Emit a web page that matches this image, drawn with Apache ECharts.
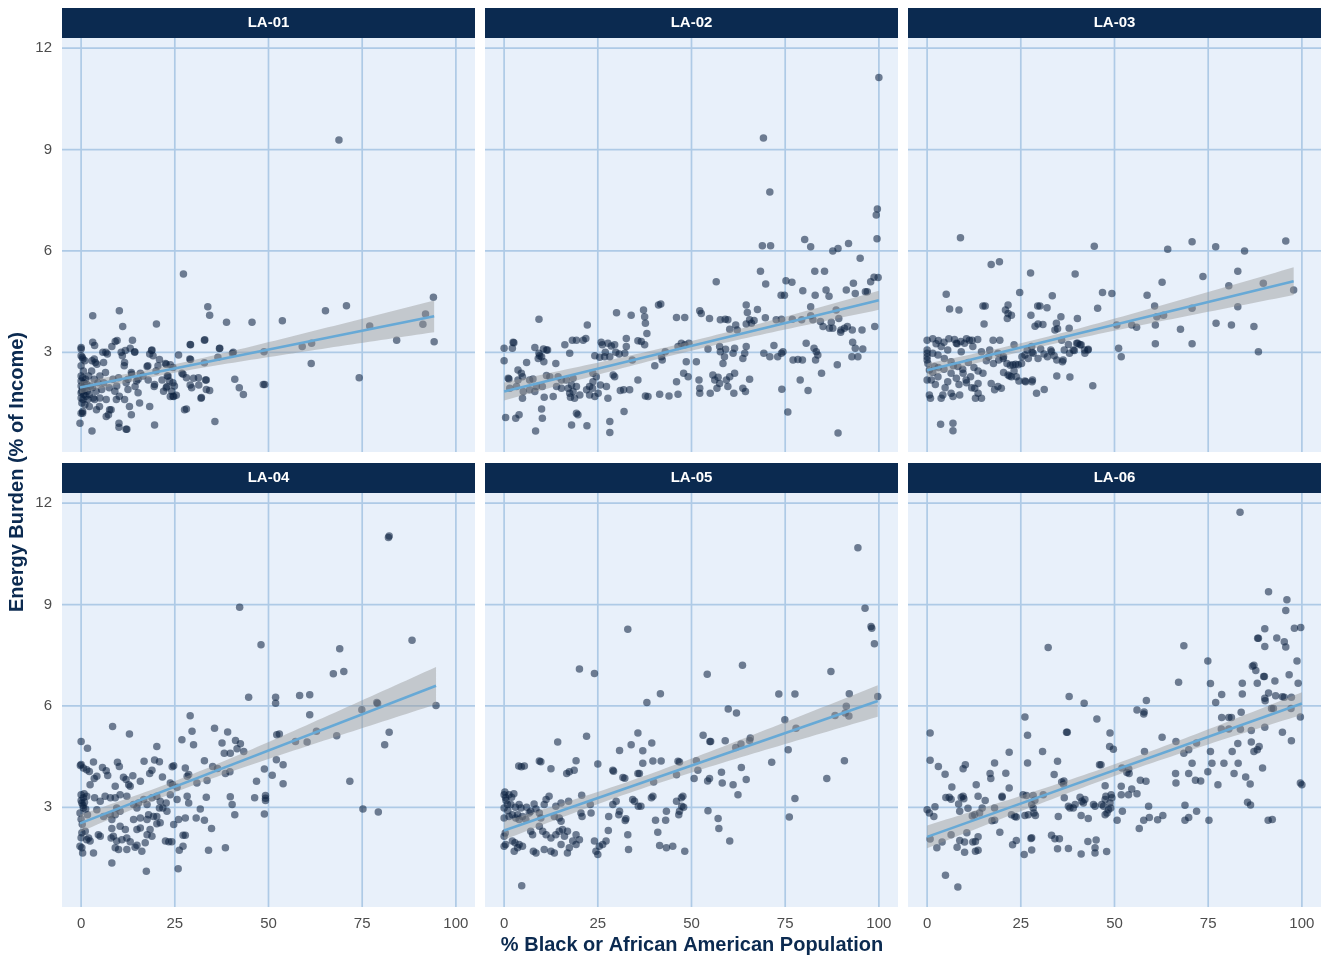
<!DOCTYPE html>
<html><head><meta charset="utf-8">
<script src="https://cdn.jsdelivr.net/npm/echarts@6/dist/echarts.min.js"></script>
<style>html,body{margin:0;padding:0;background:#fff}#c{width:1325px;height:961px}</style>
</head><body><div id="c"></div>
<script>
const panelNames = ['LA-01','LA-02','LA-03','LA-04','LA-05','LA-06'];
const xTicks = [0,25,50,75,100];
const yTicks = [3,6,9,12];
const xTickLabels = ['0','25','50','75','100'];
const yTickLabels = ['3','6','9','12'];
const xRange = [-5.1, 105.1];
const yRange = [0.05, 12.3];
const xTitle = '% Black or African American Population';
const yTitle = 'Energy Burden (% of Income)';

const la01 = [
[0,3.1],[0.3,2.85],[0.5,2.8],[1,2.75],[0,2.6],[0.6,2.45],[0,2.3],[0.4,2.25],[1.2,2.2],[0,2.15],[0.8,2.1],[1.5,2.05],[0,2.0],[0.5,1.95],[1,1.9],[0.2,1.85],[1.6,1.85],[0,1.8],[0.7,1.75],[1.3,1.7],[0,1.65],[0.5,1.6],[1.8,1.6],[0.2,1.5],[1,1.45],[0,1.2],[0.4,1.25],
[0,3.14],[0,2.9],[2.9,2.75],[3.5,2.8],[5.8,3.0],[10.7,3.0],[11.6,2.7],[14.3,3.0],[18.3,2.95],[18.8,3.05],[17.8,2.6],[20.5,2.6],[22.7,2.65],[23.2,2.3],[24.5,2.55],[13.4,2.4],[15.2,2.2],[16.5,2.3],[19.6,2.05],[22.7,1.95],[24.9,2.0],[25.4,1.73],[24.5,1.7],[23.6,2.15],[27.2,2.35],[28.1,2.25],[29.5,1.95],[31.3,2.25],[33.4,2.18],[32.1,1.66],[33.4,1.9],[29,2.8],[29.1,3.23],[33,3.37],[37,3.12],[36.5,2.85],[40.6,3.0],[41,2.2],[42.2,1.95],[43.3,1.75],[48.6,2.05],[27.6,1.3],[35.7,0.95],[19.6,0.85],[12,0.72],[10.1,0.9],[10.1,0.78],[2.9,0.67],[-0.3,0.9],[12.9,1.4],[13.4,1.15],[18.3,1.4],[7.6,1.3],[6.7,1.1],[4.9,1.4],[2.2,1.4],[0.4,1.2],[9.4,1.6],[11.6,1.6],[15.6,1.5],[6.7,1.6],[3.6,1.6],
[2,2.3],[2.5,2.0],[2.2,1.75],[3,1.95],[2.8,2.45],[3.5,2.2],[3.2,1.65],[4,1.85],[4.5,2.1],[3.8,2.7],[3.1,3.3],[3.6,3.2],[4.2,2.65],[5,2.3],[5.5,1.9],[5,1.65],[6,2.1],[6.5,2.4],[6,2.7],[6.6,3.0],[7,2.95],[7.5,1.95],[7.3,1.15],[8,1.3],[4.1,1.3],[3.1,4.08],
[8.5,2.2],[8.2,3.17],[9.1,3.32],[9.6,3.35],[9,1.85],[9.5,2.0],[10,2.25],[10.2,1.7],[10.2,4.23],[11.1,3.76],[12.2,0.72],[11,2.9],[11.5,2.6],[12,2.1],[12.5,1.9],[11.8,3.05],[12.5,2.2],[13.7,3.36],[13.1,3.12],[14.3,3.02],[14.4,1.99],[13.5,2.35],[14.8,2.15],[15.8,2.38],[15.2,1.8],[17.6,2.58],[17.9,2.18],[18.9,3.07],[19.5,1.99],[20.1,3.84],[20.9,2.79],[21.6,2.18],[19.2,2.9],[20,2.45],[22.5,2.67],[23.8,2.63],[22.9,1.99],[23.8,1.69],[24.7,1.69],[24.2,1.85],[24.5,2.1],[23,2.3],[22,1.85],[26,2.92],[26.9,2.38],[27.3,5.32],[28.1,1.32],[29.1,2.03],[29.2,3.22],[29.2,2.79],[30,2.23],[31.4,2.03],[32,1.64],[32.9,3.36],[32.9,2.69],[33.2,2.18],[33.8,4.35],[34.3,4.1],[34.3,1.87],[36.9,3.11],[38.8,3.89],[40.4,2.97],[45.6,3.89],[48.8,3.02],[49,2.05],[53.7,3.93],[59,3.17],[61.5,3.27],[61.4,2.67],[65.2,4.23],[68.8,9.28],[70.8,4.38],[74.2,2.25],[77,3.78],[84.2,3.36],[91.2,3.83],[91.9,4.13],[94,4.63],[94.2,3.31]
];

const la02 = [
[100,11.13],[69.2,9.34],[70.9,7.74],[68.9,6.15],[71.1,6.15],[99.6,7.24],[99.3,7.06],[99.5,6.36],[80.2,6.34],[81.8,6.12],[87.7,6.0],[89.1,6.07],[91.9,6.22],[95,5.78],[68.4,5.4],[69.8,5.02],[82.9,5.4],[85.5,5.4],[56.6,5.09],[75.2,5.12],[76.8,5.07],[73.9,4.69],[74.8,4.69],[79.7,4.82],[83,4.69],[85.9,4.84],[86.7,4.66],[93.2,5.04],[91.3,4.84],[93.7,4.74],[96.4,4.79],[96.9,4.79],[97.8,5.09],[98.7,5.22],[99.8,5.21],[98.9,3.76],[88.9,2.63],[89.1,0.61],[75.7,1.23],[74.1,1.91],[79,2.18],[81.1,1.87],[84.7,2.38],
[82.7,3.12],[83.3,3.02],[83.7,2.92],[83.1,2.77],[77.1,2.77],[78.4,2.79],[79.6,2.77],[74.4,3.02],[74,2.97],[72,3.2],[73,2.87],[69.3,2.97],[70.9,2.87],[80.6,3.27],[93,3.3],[93.7,3.12],[95.7,3.1],[92.8,2.87],[94.4,2.87],
[81.8,4.35],[81.8,4.08],[82.4,3.96],[84.4,3.91],[85.1,3.76],[87.3,3.89],[86.8,3.71],[88.6,4.25],[89.3,4.0],[89.9,3.66],[90.8,3.71],[91.6,3.76],[92.9,3.66],[95.5,3.66],[89.8,3.59],[87.7,3.71],[79.4,3.96],[76.9,3.98],[72.6,3.96],[74,3.98],[69.7,4.02],[64.6,4.4],[64.9,4.18],[67.6,4.27],[65.5,3.96],[66.7,3.94],[66,3.86],[64.6,3.84],[61.8,3.81],[62.2,3.66],[60.2,3.68],[57.7,3.96],[59,3.98],[59.7,3.96],[54.8,4.0],[52.2,4.23],[52.6,4.15],[48.2,4.03],[46,4.03],
[64.6,3.17],[64.2,2.97],[63.7,2.82],[61.5,3.12],[61.1,2.97],[59.1,3.09],[58.8,2.87],[57.5,3.17],[57.7,3.02],[58.4,2.67],[54.4,3.1],[51.3,2.72],[48.6,2.72],[47.3,3.27],[48.2,3.22],[49.3,3.27],[46.4,3.17],[43,3.02],[42,2.87],[42.2,2.77],[40.2,2.6],[37.5,3.22],[36.6,3.32],[35.7,3.34],[38.1,3.56],[37.7,3.86],[37.5,4.05],[37.2,4.25],[41.2,4.4],[41.8,4.43],[33.9,4.1],[30,4.17],[32.6,3.41],[32.6,3.17],[32.2,2.97],[34.2,2.77],[29.5,3.22],[28.6,3.19],[27.7,3.27],[25.9,3.3],[26.2,3.22],[26.8,2.87],[28.2,2.87],[22.2,3.81],[21.8,3.41],[21.1,3.36],[18.2,3.36],[19.3,3.36],[17.5,2.97],[16.2,3.22],[13.8,2.67],[11.6,3.07],[11.3,3.07],[9.3,3.98],[8.2,3.14],[9.3,2.97],[10,2.87],[10.6,2.72],[9.1,2.82],[6,2.7],[2.4,3.3],[2.2,3.12],[0,3.12],[1.3,2.21],[3.7,2.18],[4.9,2.28],[7.7,2.21],[11.3,2.31],[12.2,2.28],[14.4,2.28],[6.8,1.89],[8.6,1.99],[10.2,1.99],[4.9,1.64],[10.7,1.67],[13.1,1.69],[15.3,1.94],[17.1,1.94],[18.4,1.84],[19.3,1.99],[20.2,1.74],[22.8,1.74],[24.2,1.69],[25.1,1.79],[27.7,1.64],[27.3,1.99],[22,1.89],[23.6,1.94],[25.7,2.03],[23.7,2.38],[24.6,2.28],[29.1,2.33],[29.5,2.28],[31,1.87],[31.9,1.89],[33.5,1.89],[35.7,2.18],[37.7,1.71],[38.4,1.69],[41.5,1.76],[44,1.71],[46.4,1.76],[46,2.13],[47.9,2.38],[49.1,2.28],[52,2.18],[52.2,1.94],[52.2,1.79],[55,1.79],[55.7,2.33],[56.2,2.18],[56.8,1.94],[57.5,2.08],[57.1,2.26],[59.3,2.18],[60.2,2.28],[61.5,2.38],[59.7,1.99],[61.3,1.79],[63.7,1.94],[64.4,1.84],[65.5,2.2],
[18.4,2.23],[16.6,2.18],[17.5,1.79],[18.8,1.64],[23.7,2.13],[22.8,1.99],[14,1.99],[15.3,2.18],[17.7,1.67],[18,2.03],[3.7,2.48],[4.6,2.38],[6.8,2.18],[8.2,1.84],[5.1,1.84],[3.3,1.99],[1.5,1.94],[1.1,2.23],
[10,1.32],[10.2,1.05],[0.4,1.07],[3.1,1.05],[4,1.15],[8.4,0.67],[18,0.85],[19.3,1.2],[19.7,1.15],[22.1,0.83],[28.2,0.95],[28.2,0.63],[32,1.25],
[10.5,3.1],[9.5,2.9],[24.2,2.9],[25.5,2.85],[27,3.0],[29.8,3.0],[30.7,2.95],[0,2.75],[2.6,3.28]
];

const la03 = [
[8.9,6.39],[44.6,6.14],[70.7,6.27],[77,6.12],[84.7,6.0],[95.7,6.29],[64.2,6.05],[17.1,5.6],[19.3,5.68],[27.6,5.35],[39.5,5.32],[73.6,5.24],[82.9,5.4],[62.7,5.07],[80.5,4.97],[89.7,5.04],[97.8,4.84],[5.1,4.72],[24.7,4.77],[33.4,4.67],[46.8,4.77],[49.3,4.74],[58.7,4.69],[6,4.28],[8.5,4.25],[14.9,4.37],[15.5,4.37],[21.6,4.4],[20.9,4.25],[21.6,4.15],[22.5,4.1],[27.7,4.1],[29.5,4.37],[30.1,4.37],[32,4.32],[45.5,4.3],[60.7,4.37],[70.7,4.3],[82.9,4.35],[15.2,3.84],[21.4,4.0],[28.8,3.77],[29.6,3.84],[30.9,3.82],[34.5,3.86],[34.8,3.7],[35.7,4.05],[34.1,3.66],[37.9,3.71],[40.1,4.0],[50.6,3.81],[54.6,3.81],[55.9,3.74],[60.9,3.81],[61.3,4.05],[63.1,4.1],[67.6,3.68],[77.1,3.86],[81.2,3.81],[87.2,3.76],[60.9,3.25],[70.7,3.25],[88.4,3.02],[51.1,3.12],[51.8,2.87],[44.2,2.01],[43,3.09],[42.1,2.97],[39.9,3.27],[40.8,3.22],[39,3.07],[35.9,3.36],[37.7,3.23],[36.3,2.77],[34.6,2.77],[33.2,3.02],[34.6,2.3],[38.1,2.27],[31.25,1.9],[29.2,1.79],[26.1,2.15],[28.1,2.18],
[22.5,2.28],[23.8,2.28],[21.6,2.33],[29.6,2.82],[28.3,2.97],[27.9,3.17],[27,2.82],[26.1,2.92],[25.2,2.67],[23.2,3.22],[24.3,2.63],[22.9,2.63],[20.3,2.82],[18.9,2.97],[17.6,3.36],[19.4,3.36],[15.8,2.75],[14.9,2.38],[16.7,3.07],[14.5,3.02],[18.9,1.99],[19.8,1.94],[18,1.89],[17.1,2.08],[13.6,1.79],[12.9,1.64],[14.5,1.64],[12.7,1.94],[13.6,2.08],[11.6,2.28],[10.4,2.18],[9.6,2.38],[8.7,1.74],[6.4,1.79],[6.9,1.69],[4.2,1.74],[3.75,1.64],[0.9,1.64],[0.6,1.74],[3.6,0.87],[6.9,0.9],[6.9,0.68],
[0,3.36],[1.5,3.4],[3,3.35],[4.5,3.3],[5.8,3.4],[7.3,3.38],[9,3.32],[10.5,3.4],[12,3.36],[13.5,3.38],[2.4,3.25],[8,3.25],
[0,2.87],[0,2.77],[0.2,2.67],[0,2.97],[0,3.07],[0.6,2.48],[2,2.58],[2.9,2.28],[1.1,2.18],[0,2.18],[3.75,3.17],[5.5,3.07],[7.8,3.27],[9.1,3.02],[10,3.27],[11.3,3.36],[12.2,3.17],[4.6,2.82],[6.4,2.72],[8.2,2.58],[2.9,2.92],[1.5,2.97],[6.4,2.38],[7.8,2.23],[5.5,2.13],
[16.4,2.87],[17.7,2.67],[19.1,2.77],[20.4,2.87],[21.3,2.67],[22.2,2.62],[23.6,2.65],[25.3,2.87],[26.7,3.07],[28,3.0],[30.3,3.1],[31.2,2.95],[32.1,2.87],[33,3.07],[33.9,2.9],[36.1,2.72],[36.6,3.07],[38,2.97],[39.3,3.05],[40.2,3.27],[41.1,3.22],[42,3.07],[42.9,3.07],[20.4,2.4],[22,2.3],[23.2,2.45],[24.5,2.15],[26.3,2.13],[28,2.13],
[1.5,2.4],[3,2.55],[4.5,2.5],[7,2.6],[9.5,2.5],[11,2.7],[12.5,2.55],[13.6,2.45],[10.5,2.1],[11.9,1.95],[8.5,2.05],[2.2,2.05],[4.8,1.95]
];

const la04 = [
[82.2,11.03],[82,10.98],[42.3,8.92],[48,7.81],[69,7.69],[88.3,7.94],[67.3,6.95],[70.1,7.02],[44.7,6.26],[51.9,6.26],[51.9,6.08],[58.3,6.31],[61,6.33],[61,5.74],[94.7,6.01],[78.9,6.1],[79.1,6.07],[74.9,5.89],[29.1,5.71],[35.6,5.34],[29.6,5.25],[30,4.85],[39.1,5.23],[26.9,5],[52.2,5.15],[52.9,5.17],[62.8,5.25],[68.2,5.12],[82.2,5.22],[81,4.85],[57.2,4.95],[60.3,4.93],[41.2,4.98],[42.5,4.88],[41.6,4.73],[43.4,4.65],[37.6,4.9],[38.2,4.6],[39.8,4.6],[32.9,4.38],[35.1,4.21],[38.5,4.0],[39.7,4.05],[36.4,4.15],[52.1,4.41],[53.9,4.26],[48.9,4.13],[51,3.95],[46.8,3.77],[53.9,3.7],[71.7,3.77],[46.3,3.28],[49.2,3.35],[49.2,3.27],[49.2,3.2],[48.9,2.8],[75.2,2.95],[79.3,2.86],[39.8,3.31],[40.3,3.08],[41,2.78],[38.5,1.8],[34,1.73],[34.8,2.37],[32.9,2.62],[30.7,2.68],[31.8,2.95],[33.4,3.3],[33.6,3.79],[30.9,3.72],[27.2,2.17],[27.8,2.17],[27.2,1.85],[26.2,1.73],[25.9,1.18],[17.4,1.11],[8.2,1.35],[3.3,1.65],[0.4,1.65],[0.2,1.8],[-0.3,1.85],[0,2.1],[0.2,2.25],[0,4.95],[1.7,4.75],[0,4.27],[-0.2,4.24],[8.4,5.39],[12.9,5.17],[20.2,4.8],[19.6,4.4],[20.9,4.35],[16.8,4.36],[9.7,4.33],[10.2,4.21],[3.3,4.34],
[0.6,4.16],[1.5,4.11],[2.2,4.06],[5.7,4.18],[6.7,4.08],[7.1,3.94],[4.2,3.92],[3.5,3.85],[2.4,3.67],[9.1,3.62],[11.3,3.89],[12,3.82],[12.7,3.67],[13.1,3.62],[13.8,3.93],[15.8,3.77],[18.3,4.0],[18.9,4.1],[21.7,3.9],[24.3,4.2],[24.7,4.23],[24.4,3.67],[23.8,3.72],[27.8,4.16],[28.3,3.92],[28.7,3.97],[25.6,3.59],
[3.6,3.28],[5.1,3.18],[6.4,3.33],[7.8,3.28],[9.1,3.28],[10.4,3.37],[12.2,3.33],[0,3.37],[0.6,3.28],[1.5,3.33],[0.2,3.13],[0.6,2.98],[-0.3,2.83],[1.7,2.78],[4.2,2.93],[6,2.73],[7.8,2.78],[9.5,2.98],[10.4,2.88],[14,3.08],[14.9,2.98],[15.3,3.13],[16.7,3.23],[17.6,3.08],[18.9,3.28],[20.2,3.33],[21.1,3.18],[21.8,2.98],[20.9,2.98],[22.7,3.13],[22.9,2.88],[23.8,3.37],[25.6,3.23],[28.3,3.33],[28.7,3.13],
[14,2.64],[15.8,2.68],[17.6,2.64],[19.3,2.73],[20.2,2.73],[18,2.78],[8.2,2.64],[9.1,2.78],[1.1,2.29],[2,2.09],[4.6,2.19],[5.1,2.14],[2.4,2.0],[1.5,2.04],[8,2.09],[8.6,2.14],[9.5,2.0],[10.9,2.04],[12.2,2.09],[13.1,1.98],[9.1,1.8],[10,1.75],[12.2,1.75],[14.4,1.82],[14.9,1.88],[16.2,1.7],[15.8,2.39],[14.9,2.34],[17.1,1.95],[17.6,2.19],[18.9,2.14],[22.5,2.0],[23.4,1.98],[24.2,1.98],[24.7,2.49],[26,2.64],[27.8,2.68],[18.4,2.34],[20.2,2.51],[21.1,2.54],[8.2,2.37],[10.4,2.44],[11.8,2.34],
[0,3.2],[0.5,3.05],[0.8,3.4],[1.2,2.95],[0,2.65],[0.3,2.5],[0.9,3.15]
];

const la05 = [
[94.4,10.68],[96.3,8.89],[97.9,8.35],[98.1,8.3],[98.8,7.84],[33,8.27],[20.1,7.09],[24.1,6.96],[54.2,6.94],[63.6,7.2],[87.2,7.02],[41.7,6.36],[73.3,6.35],[77.6,6.35],[92.1,6.36],[99.7,6.28],[38.1,6.1],[59.8,5.91],[62,5.79],[91.3,5.99],[91,5.79],[88.3,5.72],[92,5.7],[74.9,5.59],[77.9,5.34],[22,5.1],[35.7,5.2],[53.1,5.13],[54.9,4.95],[55.1,4.95],[59,4.97],[65.7,5.05],[65.5,4.98],[63.2,4.87],[61.8,4.77],[75.8,4.7],[14.3,4.93],[30.8,4.68],[33.9,4.85],[39.4,4.9],[37,4.67],[71.4,4.33],[90.8,4.38],[9.4,4.37],[9.8,4.35],[19.2,4.38],[3.9,4.22],[4.6,4.2],[5.4,4.22],[12.5,4.14],[16.7,4.0],[17.4,4.05],[18.7,4.1],[25,4.28],[29,4.1],[29.2,4.07],[31.7,3.88],[32.2,3.86],[36.1,4.0],[35.7,4.0],[37,4.3],[39.7,4.37],[41.9,4.37],[39.9,3.75],[46.4,4.36],[46.8,4.34],[46,3.96],[50.7,3.85],[51.3,4.38],[51.7,4.1],[54.3,3.78],[54.8,3.85],[58,4.04],[58.2,3.72],[61.1,3.67],[63.3,4.18],[64.6,3.82],[62.4,3.37],[86.1,3.85],[77.6,3.26],[76.1,2.71],[54.4,2.9],[57.1,2.67],[57.3,2.37],[60.2,2.0],[48.2,1.7],[45,1.85],[43.3,1.8],[41.5,1.87],[41,2.26],[40.4,2.62],[43.1,2.62],[43.3,2.88],[46.6,2.78],[46.8,2.88],[47.4,3.03],[47.9,3.0],[46,3.18],[47.3,3.28],[47.7,3.33],[39.3,3.28],[39.7,3.33],[36.5,3.03],[35.8,3.03],[34.8,3.18],[34.3,3.23],[33,2.19],[32.5,2.66],[32.3,2.61],[33.2,1.75],[30.6,2.78],[30.8,2.88],[29,3.08],[29.9,3.18],[27.9,2.73],[27.8,2.31],[27.2,2.0],[26.3,1.9],[25.4,1.85],[24.5,1.7],[25,1.6],[24.1,2.0],[23,3.08],[23.2,2.83],[20.5,2.83],[20.8,2.73],[20.7,3.36],[17.2,3.18],
[15.2,3.13],[13.8,3.03],[13.4,2.73],[14.7,2.68],[15.2,2.59],[12,3.33],[11.2,3.23],[10.7,3.08],[8,3.1],[9.4,2.83],[9.8,2.68],[7.1,2.88],[6.7,2.83],
[1.3,3.37],[0,3.37],[0.4,3.28],[0.9,3.08],[0,2.98],[1.8,3.08],[2.2,2.78],[0,2.68],[1.3,2.73],[4,3.08],[3.6,2.78],[3.1,2.68],[4.9,2.73],[4,2.64],
[0.5,3.2],[1,2.9],[2,3.3],[3,3.0],[6,3.0],[8.5,2.95],[0.2,3.45],[2.6,3.4],
[0.3,2.24],[0,2.14],[0.4,1.9],[0,1.85],[2.2,2.0],[2.9,1.95],[4,1.9],[3.6,1.8],[2.7,1.7],[4.9,1.85],[7.8,1.7],[8.5,1.65],[10.7,1.75],[12.5,1.7],[13.4,1.65],
[9.4,2.44],[10.3,2.29],[11.2,2.19],[12.5,2.09],[13.8,2.19],[14.7,2.29],[15.6,2.34],[16.1,2.14],[16.9,2.29],[15.2,1.9],[17.4,1.8],[16.9,1.65],[18.3,2.0],[19.2,2.19],[20.1,2.04],[19.2,1.9],[7.6,2.19],[7.1,2.29],[5.8,2.64],[4.5,2.98],[4.7,0.68]
];

const la06 = [
[83.5,11.73],[91.1,9.38],[96,9.14],[95.7,8.82],[98,8.3],[99.7,8.32],[90.1,8.28],[88.2,8.0],[88.4,8.0],[93.3,8.01],[90.1,7.76],[95.3,7.9],[95.7,7.74],[98.7,7.33],[32.3,7.73],[68.5,7.78],[74.9,7.33],[86.8,7.17],[87.2,7.2],[87.7,7.05],[89.8,6.87],[90,6.87],[88.1,6.67],[92.8,6.74],[96.6,6.92],[99,6.67],[67.1,6.7],[75.6,6.66],[84.1,6.67],[91.1,6.38],[90.1,6.23],[90.2,6.15],[93,6.3],[94.8,6.27],[95.3,6.26],[97.2,6.26],[84.1,6.35],[78.6,6.34],[77,6.1],[58.5,6.16],[41.9,6.08],[37.9,6.28],[56,5.88],[57.9,5.82],[57.8,5.76],[83.8,5.81],[91.9,5.92],[99.6,5.67],[97.1,5.92],[78.6,5.66],[80.5,5.66],[81.2,5.66],[78.5,5.32],[80.5,5.32],[83.6,5.31],[86.5,5.27],[90.1,5.37],[94.8,5.22],[97.2,4.97],[26.1,5.67],[45.3,5.61],[0.8,5.2],[37.2,5.22],[37.4,5.22],[26.8,5.13],[48.8,5.2],[48.7,4.8],[49.7,4.72],[62.7,5.07],[66.4,4.95],[82.9,4.89],[86.5,4.93],[88.6,4.8],[88.1,4.7],[87.2,4.65],[81.4,4.65],[71.9,4.9],[68.5,4.6],[69.8,4.7],[75.6,4.65],[30.8,4.65],[21.9,4.63],[0.8,4.39],[3,4.21],[4.8,3.98],[9.6,4.14],[10.2,4.26],[6.6,3.6],[5.9,3.3],[5,3.29],[6.4,3.24],[9.1,3.3],[9.6,3.33],[9.8,3.25],[8.4,3.1],[8.7,2.88],[10.9,2.97],[13.1,3.67],[13.6,3.33],[15.5,3.2],[16.8,4.0],[17,3.85],[18,4.31],[21,4.01],[20,3.33],[20,3.3],[21.9,3.57],[18,2.98],[17.3,2.6],[18,2.62],[14.7,2.98],[14,2.83],[12.05,2.74],[12.7,2.78],[10.6,2.25],[12.2,1.97],[12.9,1.99],[13.6,2.13],[8.7,2.02],[10,1.97],[8,1.82],[6.4,2.19],[4,1.97],[2.6,1.8],[0.8,2.06],[0,2.93],[0.6,2.83],[1.8,2.73],[2.1,3.02],[10,1.67],[12.9,1.7],[13.6,1.73],
[4.9,0.99],[8.2,0.64],[19.4,2.26],[22.5,2.78],[23.4,2.73],[23.8,2.71],[22.8,1.89],[23.8,2.02],[25.9,1.6],[27.9,2.1],[27.7,2.08],[27.9,1.74],[26.1,2.76],[27,2.78],[28.5,2.83],[28.9,2.76],[25.6,3.37],[26.5,3.35],[28.3,3.35],[28.75,3.21],[27.9,3.08],[28.3,2.98],[31,3.37],
[26.8,4.31],[33.2,2.17],[34.1,2.07],[34.8,1.77],[35.3,2.07],[35,2.73],[34.8,4.36],[33.9,3.97],[35.9,3.75],[36.4,3.68],[36.5,3.78],[36.6,3.28],[37.7,3.03],[38.1,2.98],[39,2.98],[39.5,3.08],[37.7,1.78],[40.8,3.3],[41.3,3.18],[41.7,3.13],[42.1,3.23],[41.1,2.76],[43,2.67],[41.1,1.62],[42.9,1.99],[44.8,1.8],[44.8,1.65],[45.1,2.03],[47.9,1.69],
[44.4,3.08],[44.8,3.03],[46.6,3.08],[47.1,3.03],[47.5,3.23],[47.7,3.33],[49.1,3.37],[49.3,3.28],[48.8,3.13],[47.5,2.78],[48,2.83],[48.4,2.93],[49,2.98],[46,4.26],[46.4,4.26],[47.5,3.64],[50.7,2.62],[52.1,2.88],[51.8,3.37],[51.8,3.62],[53.3,4.03],[53.8,4.13],[53.9,4.0],[52,4.16],[53.75,3.37],[54.6,3.54],[56,3.4],[56.9,3.8],[58.4,3.77],[58,4.65],[56.6,2.37],[57.8,2.62],[59.3,2.7],[59.1,3.03],[61.5,2.63],[62.9,2.76],[66.3,4.0],[66.4,3.72],[68.8,3.06],[68.8,2.62],[69.8,2.7],[69.8,4.0],[70.7,4.3],[71.6,3.8],[73,3.78],[71.9,2.88],[74.9,4.05],[76,4.3],[75.2,2.62],[77.6,3.67],[79.2,4.3],[81.9,4.0],[83,4.3],[85,3.9],[85.5,3.15],[86.3,3.07],[86.2,3.69],[89.5,4.16],[91,2.62],[92.1,2.64],[92.4,5.92],[99.6,3.72],[100,3.67]
];

const panelData = [la01, la02, la03, la04, la05, la06];

// layout (pixels)
const colLeft = [62, 485, 908];
const rowTop = [38, 493];
const panelW = 413, panelH = 414, stripH = 30;

const NAVY = '#0b2a50';
const FONT = '"Liberation Sans", Arial, Helvetica, sans-serif';

function lmFit(pts) {
  const n = pts.length;
  let sx = 0, sy = 0;
  pts.forEach(p => { sx += p[0]; sy += p[1]; });
  const mx = sx / n, my = sy / n;
  let sxx = 0, sxy = 0;
  pts.forEach(p => { sxx += (p[0]-mx)*(p[0]-mx); sxy += (p[0]-mx)*(p[1]-my); });
  const b = sxy / sxx, a = my - b * mx;
  let sse = 0;
  pts.forEach(p => { const r = p[1] - a - b*p[0]; sse += r*r; });
  const s = Math.sqrt(sse / (n - 2));
  const t = 1.968;
  const xs = pts.map(p => p[0]);
  const x0 = Math.min(...xs), x1 = Math.max(...xs);
  const band = [];
  for (let i = 0; i <= 60; i++) {
    const x = x0 + (x1 - x0) * i / 60;
    const yh = a + b * x;
    const se = s * Math.sqrt(1/n + (x-mx)*(x-mx)/sxx);
    band.push([x, yh - t*se, yh + t*se]);
  }
  return { line: [[x0, a + b*x0], [x1, a + b*x1]], band };
}

const grids = [], xAxes = [], yAxes = [], series = [], graphics = [];

panelData.forEach((pts, i) => {
  const col = i % 3, row = Math.floor(i / 3);
  const left = colLeft[col], top = rowTop[row];
  grids.push({ left: left, top: top, width: panelW, height: panelH, show: true,
    backgroundColor: '#e8f0fa', borderWidth: 0, containLabel: false });
  xAxes.push({ gridIndex: i, type: 'value', min: xRange[0], max: xRange[1],
    axisLine: { show: false }, axisTick: { show: false }, splitLine: { show: false },
    axisLabel: { show: row === 1, customValues: xTicks, margin: 9, color: '#4d4d4d', fontSize: 15, fontFamily: FONT,
      formatter: v => xTickLabels[xTicks.indexOf(v)] } });
  yAxes.push({ gridIndex: i, type: 'value', min: yRange[0], max: yRange[1],
    axisLine: { show: false }, axisTick: { show: false }, splitLine: { show: false },
    axisLabel: { show: col === 0, customValues: yTicks, margin: 10, color: '#4d4d4d', fontSize: 15, fontFamily: FONT,
      formatter: v => yTickLabels[yTicks.indexOf(v)] } });

  // grid lines
  series.push({ type: 'custom', xAxisIndex: i, yAxisIndex: i, silent: true, z: 1, clip: true,
    data: xTicks.map(v => [v, yRange[0]]),
    renderItem: (params, api) => {
      const v = api.value(0);
      const p0 = api.coord([v, yRange[0]]), p1 = api.coord([v, yRange[1]]);
      return { type: 'line', shape: { x1: p0[0], y1: p0[1], x2: p1[0], y2: p1[1] },
        style: { stroke: '#aecae6', lineWidth: 1.7 } };
    } });
  series.push({ type: 'custom', xAxisIndex: i, yAxisIndex: i, silent: true, z: 1, clip: true,
    data: yTicks.map(v => [xRange[0], v]),
    renderItem: (params, api) => {
      const v = api.value(1);
      const p0 = api.coord([xRange[0], v]), p1 = api.coord([xRange[1], v]);
      return { type: 'line', shape: { x1: p0[0], y1: p0[1], x2: p1[0], y2: p1[1] },
        style: { stroke: '#aecae6', lineWidth: 1.7 } };
    } });

  // points
  series.push({ type: 'scatter', xAxisIndex: i, yAxisIndex: i, data: pts, symbolSize: 7.5, z: 3,
    itemStyle: { color: 'rgba(10,32,62,0.7)' }, silent: true });

  const f = lmFit(pts);
  // confidence band
  series.push({ type: 'custom', xAxisIndex: i, yAxisIndex: i, silent: true, z: 4, clip: true,
    data: [[50, 5]],
    renderItem: (params, api) => {
      const up = f.band.map(b => api.coord([b[0], b[2]]));
      const lo = f.band.slice().reverse().map(b => api.coord([b[0], b[1]]));
      return { type: 'polygon', shape: { points: up.concat(lo) },
        style: { fill: 'rgba(150,150,150,0.45)', stroke: 'none' } };
    } });
  // fit line
  series.push({ type: 'line', xAxisIndex: i, yAxisIndex: i, data: f.line, symbol: 'none', z: 5, silent: true,
    lineStyle: { color: '#67a9d6', width: 2.6 } });

  // strip header
  graphics.push({ type: 'rect', left: left, top: top - stripH, shape: { width: panelW, height: stripH },
    style: { fill: NAVY } });
  graphics.push({ type: 'text', x: left + panelW / 2, y: top - stripH / 2,
    style: { text: panelNames[i], fill: '#ffffff', font: 'bold 15px ' + FONT, align: 'center', verticalAlign: 'middle' } });
});

graphics.push({ type: 'text', x: 692, y: 945,
  style: { text: xTitle, fill: NAVY, font: 'bold 20px ' + FONT, align: 'center', verticalAlign: 'middle' } });
graphics.push({ type: 'text', x: 17, y: 472, rotation: Math.PI / 2,
  style: { text: yTitle, fill: NAVY, font: 'bold 20px ' + FONT, align: 'center', verticalAlign: 'middle' } });

const chart = echarts.init(document.getElementById('c'), null, { renderer: 'canvas' });
chart.setOption({
  backgroundColor: '#ffffff',
  animation: false,
  grid: grids, xAxis: xAxes, yAxis: yAxes, series: series, graphic: graphics
});
</script>
</body></html>
